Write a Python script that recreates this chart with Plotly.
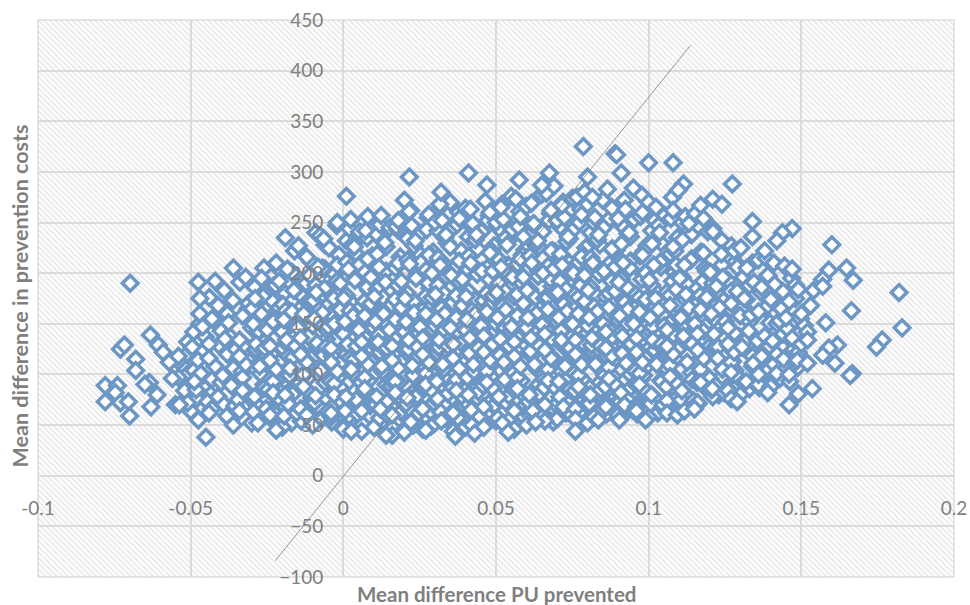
import plotly.graph_objects as go

# outliers
x_edge_left = [-0.0698,-0.078,-0.078,-0.074,-0.0747,-0.073,-0.0717,-0.073,-0.0704,-0.070,-0.068,-0.068,-0.0632,-0.0606,-0.059,-0.0635,-0.065,-0.063,-0.061,-0.055,-0.0537,-0.0475,-0.047,-0.045,-0.0475,-0.057,-0.056,-0.054]
y_edge_left = [190,89,73,89,82,125,129,72,73,59,115,104,139,129,122,92,90,68,80,70,70,191,175,38,55,112,96,118]
x_edge_right = [0.182,0.183,0.1765,0.1746,0.1664,0.167,0.1648,0.160,0.159,0.157,0.154,0.1667,0.166,0.1618,0.159,0.161,0.157,0.1536,0.149,0.146,0.1487,0.152,0.158,0.152,0.147,0.1438,0.142,0.149,0.153,0.157]
y_edge_right = [181,146,134,127,163,193,205,228,203,194,183,101,99,129,126,111,119,86,81,70,114,111,151,134,244,240,232,184,168,187]
x_edge_top = [0.0786,0.089,0.0895,0.1,0.108,0.1274,0.1114,0.1097,0.091,0.080,0.0675,0.065,0.0576,0.047,0.041,0.0216,0.001,0.032,-0.019,0.117,0.121,0.124,0.134]
y_edge_top = [325,318,317,309,309,288,288,282,299,295,299,287,292,287,299,295,276,280,235,267,273,268,251]
x_edge_low = [0.076,0.054,0.043,0.0367,0.02,0.014,0.0026,-0.022,0.1094,0.1117,0.115,0.099,0.0904,0.0835,-0.036,-0.028,0.027,0.063,0.127,0.129,0.139]
y_edge_low = [44,43,42,39,43,40,44,45,60,64,66,55,55,55,50,52,45,53,76,73,82]

# interior of the cloud, band by band
x_a = [-0.052,-0.049,-0.054,-0.047,-0.051,-0.046,-0.053,-0.048,-0.050,-0.046,-0.052,-0.047,-0.049,-0.054,-0.046,-0.051]
y_a = [118,104,97,150,132,88,110,76,64,123,84,160,142,113,99,72]
x_b = [-0.044,-0.041,-0.037,-0.043,-0.039,-0.036,-0.042,-0.038,-0.044,-0.04,-0.036,-0.043,-0.037,-0.041,-0.039,-0.044,-0.036,-0.042,-0.038,-0.04]
y_b = [62,78,55,95,70,88,108,120,130,143,106,155,137,168,183,116,205,192,160,92]
x_c = [-0.034,-0.031,-0.027,-0.033,-0.029,-0.026,-0.032,-0.028,-0.034,-0.03,-0.026,-0.033,-0.027,-0.031,-0.029,-0.034,-0.026,-0.032,-0.028,-0.03,-0.033,-0.027]
y_c = [64,80,58,97,72,90,110,122,134,146,104,158,139,170,186,118,205,196,162,52,84,178]
x_d = [-0.024,-0.021,-0.017,-0.023,-0.019,-0.016,-0.022,-0.018,-0.024,-0.02,-0.016,-0.023,-0.017,-0.021,-0.019,-0.024,-0.016,-0.022,-0.018,-0.02,-0.023,-0.017,-0.021,-0.016]
y_d = [60,76,52,93,68,86,105,118,128,142,100,152,136,166,180,114,198,210,158,48,82,172,192,222]
x_e = [-0.014,-0.011,-0.007,-0.013,-0.009,-0.006,-0.012,-0.008,-0.014,-0.01,-0.006,-0.013,-0.007,-0.011,-0.009,-0.014,-0.006,-0.012,-0.008,-0.01,-0.013,-0.007,-0.011,-0.006,-0.009,-0.012]
y_e = [66,82,56,100,74,92,112,124,136,148,108,160,142,174,188,120,204,216,164,50,88,178,198,228,240,60]
x_f = [-0.004,-0.001,0.003,-0.003,0.001,0.004,-0.002,0.002,-0.004,0,0.004,-0.003,0.003,-0.001,0.001,-0.004,0.004,-0.002,0.002,0,-0.003,0.003,-0.001,0.004,0.001,-0.002,0.002,-0.004]
y_f = [58,74,50,91,66,84,103,116,126,140,98,150,134,164,178,112,196,208,156,46,80,170,190,220,232,250,244,62]
x_g = [0.006,0.009,0.013,0.007,0.011,0.014,0.008,0.012,0.006,0.01,0.014,0.007,0.013,0.009,0.011,0.006,0.014,0.008,0.012,0.01,0.007,0.013,0.009,0.014,0.011,0.008,0.012,0.006]
y_g = [64,80,54,97,72,90,110,122,132,146,104,158,140,170,184,118,202,214,162,48,86,176,196,226,238,256,248,44]
x_h = [0.016,0.019,0.023,0.017,0.021,0.024,0.018,0.022,0.016,0.02,0.024,0.017,0.023,0.019,0.021,0.016,0.024,0.018,0.022,0.02,0.017,0.023,0.019,0.024,0.021,0.018,0.022,0.016,0.02,0.023]
y_h = [60,76,50,93,68,86,106,118,128,142,100,154,136,166,180,114,198,210,158,46,82,172,192,222,234,252,262,40,272,56]
x_i = [0.026,0.029,0.033,0.027,0.031,0.034,0.028,0.032,0.026,0.03,0.034,0.027,0.033,0.029,0.031,0.026,0.034,0.028,0.032,0.03,0.027,0.033,0.029,0.034,0.031,0.028,0.032,0.026,0.03,0.033,0.035]
y_i = [66,84,58,101,74,94,112,124,136,148,108,160,144,176,188,120,206,218,166,52,90,180,200,230,242,258,266,46,250,70,270]
x_j = [0.036,0.039,0.043,0.037,0.041,0.044,0.038,0.042,0.036,0.04,0.044,0.037,0.043,0.039,0.041,0.036,0.044,0.038,0.042,0.04,0.037,0.043,0.039,0.044,0.041,0.038,0.042,0.036,0.04,0.043,0.035]
y_j = [62,78,52,95,70,88,106,118,130,144,102,156,138,168,182,116,200,212,160,48,84,174,194,224,236,254,246,44,264,60,226]
x_k = [0.046,0.049,0.053,0.047,0.051,0.054,0.048,0.052,0.046,0.05,0.054,0.047,0.053,0.049,0.051,0.046,0.054,0.048,0.052,0.05,0.047,0.053,0.049,0.054,0.051,0.048,0.052,0.046,0.05,0.053,0.055,0.049]
y_k = [68,86,60,103,76,96,114,126,138,150,110,162,146,178,190,122,208,220,168,54,92,182,202,232,244,260,268,48,250,72,276,130]
x_l = [0.056,0.059,0.063,0.057,0.061,0.064,0.058,0.062,0.056,0.06,0.064,0.057,0.063,0.059,0.061,0.056,0.064,0.058,0.062,0.06,0.057,0.063,0.059,0.064,0.061,0.058,0.062,0.056,0.06,0.063,0.065,0.059]
y_l = [64,80,54,97,72,90,108,120,132,146,104,158,140,170,184,118,202,214,162,50,86,176,196,226,238,256,248,46,266,62,278,236]
x_m = [0.066,0.069,0.073,0.067,0.071,0.074,0.068,0.072,0.066,0.07,0.074,0.067,0.073,0.069,0.071,0.066,0.074,0.068,0.072,0.07,0.067,0.073,0.069,0.074,0.071,0.068,0.072,0.066,0.07,0.073,0.075,0.069]
y_m = [70,88,62,105,78,98,116,128,140,152,112,164,148,180,192,124,210,222,170,56,94,184,204,234,246,262,270,54,252,74,274,286]
x_n = [0.076,0.079,0.083,0.077,0.081,0.084,0.078,0.082,0.076,0.08,0.084,0.077,0.083,0.079,0.081,0.076,0.084,0.078,0.082,0.08,0.077,0.083,0.079,0.084,0.081,0.078,0.082,0.076,0.08,0.083,0.085,0.079]
y_n = [66,82,60,99,74,92,110,122,134,148,106,160,142,172,186,120,204,216,164,52,88,178,198,228,240,258,250,56,268,64,272,280]
x_o = [0.086,0.089,0.093,0.087,0.091,0.094,0.088,0.092,0.086,0.09,0.094,0.087,0.093,0.089,0.091,0.086,0.094,0.088,0.092,0.09,0.087,0.093,0.089,0.094,0.091,0.088,0.092,0.086,0.09,0.093,0.095]
y_o = [72,90,64,107,80,100,118,130,142,154,114,166,150,182,194,126,212,224,172,60,96,186,206,236,248,264,272,68,254,76,284]
x_p = [0.096,0.099,0.103,0.097,0.101,0.104,0.098,0.102,0.096,0.1,0.104,0.097,0.103,0.099,0.101,0.096,0.104,0.098,0.102,0.1,0.097,0.103,0.099,0.104,0.101,0.098,0.102,0.096,0.1,0.103]
y_p = [68,84,62,101,76,94,112,124,136,150,108,162,144,174,188,122,206,218,166,58,90,180,200,230,242,260,252,64,270,72]
x_q = [0.106,0.109,0.113,0.107,0.111,0.114,0.108,0.112,0.106,0.11,0.114,0.107,0.113,0.109,0.111,0.106,0.114,0.108,0.112,0.11,0.107,0.113,0.109,0.114,0.111,0.108,0.112,0.106]
y_q = [74,92,68,109,82,102,120,132,144,156,116,168,152,184,196,128,214,226,174,66,98,188,208,238,250,262,256,62]
x_r = [0.116,0.119,0.123,0.117,0.121,0.124,0.118,0.122,0.116,0.12,0.124,0.117,0.123,0.119,0.121,0.116,0.124,0.118,0.122,0.12,0.117,0.123,0.119,0.124,0.121,0.118]
y_r = [72,88,80,105,78,98,116,128,140,152,112,164,146,176,190,124,208,220,168,96,92,182,202,232,244,254]
x_s = [0.126,0.129,0.133,0.127,0.131,0.134,0.128,0.132,0.126,0.13,0.134,0.127,0.133,0.129,0.131,0.126,0.134,0.128,0.132,0.13,0.127,0.133,0.129,0.134]
y_s = [84,98,86,112,92,108,122,134,146,158,118,170,152,182,196,130,210,222,174,80,102,188,206,236]
x_t = [0.136,0.139,0.143,0.137,0.141,0.144,0.138,0.142,0.136,0.14,0.144,0.137,0.143,0.139,0.141,0.136,0.144,0.138,0.142,0.14]
y_t = [90,104,96,118,110,126,138,150,162,174,140,186,166,198,210,100,182,222,120,88]
x_u = [0.146,0.149,0.151,0.147,0.15,0.146,0.148,0.152,0.147,0.145,0.15,0.148]
y_u = [100,122,148,136,160,172,188,142,204,156,130,112]

# second pass over the cloud, filling the gaps
x_a2 = [-0.0445,-0.0482,-0.0418,-0.0467,-0.0431,-0.0495,-0.0452,-0.0408,-0.0476,-0.0423,-0.0461,-0.0439,-0.0488]
y_a2 = [73,85,91,101,66,127,137,129,114,153,147,176,93]
x_b2 = [-0.0355,-0.0382,-0.0318,-0.0367,-0.0331,-0.0395,-0.0352,-0.0308,-0.0376,-0.0323,-0.0361,-0.0339,-0.0388,-0.0345,-0.0312]
y_b2 = [69,59,83,89,103,99,125,113,151,129,173,191,135,75,165]
x_c2 = [-0.0238,-0.0281,-0.0212,-0.0258,-0.0225,-0.0294,-0.0244,-0.0272,-0.0203,-0.0265,-0.0219,-0.0287,-0.0232,-0.0255,-0.0208,-0.0278,-0.0241,-0.0298,-0.0216,-0.0262,-0.0229,-0.0289,-0.0206,-0.0268,-0.0247,-0.0276]
y_c2 = [57,69,73,87,79,63,97,101,91,115,107,125,121,133,147,143,155,165,163,177,187,175,203,195,85,111]
x_d2 = [-0.0138,-0.0181,-0.0112,-0.0158,-0.0125,-0.0194,-0.0144,-0.0172,-0.0103,-0.0165,-0.0119,-0.0187,-0.0132,-0.0155,-0.0108,-0.0178,-0.0141,-0.0198,-0.0116,-0.0162,-0.0129,-0.0189,-0.0106,-0.0168,-0.0147,-0.0176]
y_d2 = [54,71,67,83,95,59,89,105,77,117,113,131,127,139,151,157,145,169,171,183,193,163,211,201,227,99]
x_e2 = [-0.0038,-0.0081,-0.0012,-0.0058,-0.0025,-0.0094,-0.0044,-0.0072,-0.0003,-0.0065,-0.0019,-0.0087,-0.0032,-0.0055,-0.0008,-0.0078,-0.0041,-0.0098,-0.0016,-0.0062,-0.0029,-0.0089,-0.0006,-0.0068,-0.0047,-0.0076,-0.0022,-0.0052]
y_e2 = [53,68,61,77,87,72,95,109,85,119,101,129,123,135,149,153,159,173,167,185,199,181,215,205,225,237,247,143]
x_f2 = [0.0062,0.0019,0.0088,0.0042,0.0075,0.0006,0.0056,0.0028,0.0097,0.0035,0.0081,0.0013,0.0068,0.0045,0.0092,0.0022,0.0059,0.0002,0.0084,0.0038,0.0071,0.0011,0.0094,0.0032,0.0053,0.0024,0.0078,0.0048]
y_f2 = [51,59,69,75,85,64,93,107,99,115,121,129,137,145,151,163,167,175,183,193,201,211,217,229,241,253,235,125]
x_g2 = [0.0162,0.0119,0.0188,0.0142,0.0175,0.0106,0.0156,0.0128,0.0197,0.0135,0.0181,0.0113,0.0168,0.0145,0.0192,0.0122,0.0159,0.0102,0.0184,0.0138,0.0171,0.0111,0.0194,0.0132,0.0153,0.0124,0.0178,0.0148,0.0186,0.0116]
y_g2 = [47,57,63,73,83,70,89,103,97,111,125,131,135,149,147,161,169,177,187,191,205,219,213,231,245,257,243,121,155,139]
x_h2 = [0.0262,0.0219,0.0288,0.0242,0.0275,0.0206,0.0256,0.0228,0.0297,0.0235,0.0281,0.0213,0.0268,0.0245,0.0292,0.0222,0.0259,0.0202,0.0284,0.0238,0.0271,0.0211,0.0294,0.0232,0.0253,0.0224,0.0278,0.0248,0.0286,0.0216]
y_h2 = [55,65,49,79,91,71,87,99,105,115,129,125,133,151,145,159,163,175,185,195,203,213,221,227,239,247,255,141,171,261]
x_i2 = [0.0362,0.0319,0.0388,0.0342,0.0375,0.0306,0.0356,0.0328,0.0397,0.0335,0.0381,0.0313,0.0368,0.0345,0.0392,0.0322,0.0359,0.0302,0.0384,0.0338,0.0371,0.0311,0.0394,0.0332,0.0353,0.0324,0.0378,0.0348,0.0386,0.0316]
y_i2 = [49,63,71,81,57,93,89,105,117,125,131,127,141,153,157,165,171,179,189,197,207,215,219,235,243,252,260,135,175,268]
x_j2 = [0.0462,0.0419,0.0488,0.0442,0.0475,0.0406,0.0456,0.0428,0.0497,0.0435,0.0481,0.0413,0.0468,0.0445,0.0492,0.0422,0.0459,0.0402,0.0484,0.0438,0.0471,0.0411,0.0494,0.0432,0.0453,0.0424,0.0478,0.0448,0.0486,0.0416,0.0465]
y_j2 = [53,65,75,83,59,97,91,103,113,127,133,121,149,151,155,163,173,177,185,199,205,217,227,233,241,249,257,139,169,263,271]
x_k2 = [0.0562,0.0519,0.0588,0.0542,0.0575,0.0506,0.0556,0.0528,0.0597,0.0535,0.0581,0.0513,0.0568,0.0545,0.0592,0.0522,0.0559,0.0502,0.0584,0.0538,0.0571,0.0511,0.0594,0.0532,0.0553,0.0524,0.0578,0.0548,0.0586,0.0516,0.0565]
y_k2 = [51,61,67,79,87,57,101,95,117,125,129,119,137,153,159,167,177,181,191,199,209,213,223,235,243,253,261,143,175,265,273]
x_l2 = [0.0662,0.0619,0.0688,0.0642,0.0675,0.0606,0.0656,0.0628,0.0697,0.0635,0.0681,0.0613,0.0668,0.0645,0.0692,0.0622,0.0659,0.0602,0.0684,0.0638,0.0671,0.0611,0.0694,0.0632,0.0653,0.0624,0.0678,0.0648,0.0686,0.0616,0.0665]
y_l2 = [59,67,53,81,91,73,95,107,113,129,135,123,143,151,157,163,175,183,187,197,207,217,221,229,241,249,259,137,167,269,279]
x_m2 = [0.0762,0.0719,0.0788,0.0742,0.0775,0.0706,0.0756,0.0728,0.0797,0.0735,0.0781,0.0713,0.0768,0.0745,0.0792,0.0722,0.0759,0.0702,0.0784,0.0738,0.0771,0.0711,0.0794,0.0732,0.0753,0.0724,0.0778,0.0748,0.0786,0.0716,0.0765]
y_m2 = [57,65,75,85,63,93,101,111,119,127,131,143,147,155,161,169,179,181,193,201,211,219,225,231,243,255,263,137,171,267,275]
x_n2 = [0.0862,0.0819,0.0888,0.0842,0.0875,0.0806,0.0856,0.0828,0.0897,0.0835,0.0881,0.0813,0.0868,0.0845,0.0892,0.0822,0.0859,0.0802,0.0884,0.0838,0.0871,0.0811,0.0894,0.0832,0.0853,0.0824,0.0878,0.0848,0.0886,0.0816,0.0865]
y_n2 = [61,69,77,85,93,71,99,113,119,125,137,129,145,151,159,167,177,183,191,199,209,215,223,233,245,255,265,139,173,275,283]
x_o2 = [0.0962,0.0919,0.0988,0.0942,0.0975,0.0906,0.0956,0.0928,0.0997,0.0935,0.0981,0.0913,0.0968,0.0945,0.0992,0.0922,0.0959,0.0902,0.0984,0.0938,0.0971,0.0911,0.0994,0.0932,0.0953,0.0924,0.0978]
y_o2 = [61,69,79,87,95,73,103,115,109,127,135,121,147,155,161,171,179,191,199,205,217,229,227,239,253,263,277]
x_p2 = [0.1062,0.1019,0.1088,0.1042,0.1075,0.1006,0.1056,0.1028,0.1097,0.1035,0.1081,0.1013,0.1068,0.1045,0.1092,0.1022,0.1059,0.1002,0.1084,0.1038,0.1071,0.1011,0.1094,0.1032,0.1053,0.1024,0.1078]
y_p2 = [67,77,85,93,99,71,107,113,125,129,139,147,153,159,169,175,181,193,201,211,219,229,235,247,257,265,275]
x_q2 = [0.1162,0.1119,0.1188,0.1142,0.1175,0.1106,0.1156,0.1128,0.1197,0.1135,0.1181,0.1113,0.1168,0.1145,0.1192,0.1122,0.1159,0.1102,0.1184,0.1138,0.1171,0.1111,0.1194,0.1132,0.1153]
y_q2 = [71,81,87,95,101,75,111,119,127,137,143,149,157,161,171,179,185,195,205,213,221,233,241,249,259]
x_r2 = [0.1262,0.1219,0.1288,0.1242,0.1275,0.1206,0.1256,0.1228,0.1297,0.1235,0.1281,0.1213,0.1268,0.1245,0.1292,0.1222,0.1259,0.1202,0.1284,0.1238,0.1271,0.1211]
y_r2 = [79,89,95,105,113,85,121,127,137,147,141,155,165,173,179,187,193,201,211,219,227,241]
x_s2 = [0.1362,0.1319,0.1388,0.1342,0.1375,0.1306,0.1356,0.1328,0.1397,0.1335,0.1381,0.1313,0.1368,0.1345,0.1392,0.1322,0.1359,0.1302,0.1384]
y_s2 = [87,93,101,111,119,127,133,143,151,159,165,175,181,191,197,205,213,225,215]
x_t2 = [0.1462,0.1419,0.1488,0.1442,0.1475,0.1406,0.1456,0.1428,0.1497,0.1435,0.1481,0.1413,0.1468,0.1445]
y_t2 = [93,101,107,115,125,133,145,153,155,165,175,189,195,207]

# third pass over the densest part
x_c3 = [-0.0291,-0.0253,-0.0217,-0.0274,-0.0236,-0.0204,-0.0286,-0.0249,-0.0211,-0.0268,-0.0231,-0.0295,-0.0257,-0.0222]
y_c3 = [78,66,94,108,120,82,130,144,112,160,172,150,126,188]
x_d3 = [-0.0191,-0.0153,-0.0117,-0.0174,-0.0136,-0.0104,-0.0186,-0.0149,-0.0111,-0.0168,-0.0131,-0.0195,-0.0157,-0.0122,-0.0183,-0.0142]
y_d3 = [80,62,96,106,122,74,134,146,110,162,176,154,128,190,204,92]
x_e3 = [-0.0091,-0.0053,-0.0017,-0.0074,-0.0036,-0.0004,-0.0086,-0.0049,-0.0011,-0.0068,-0.0031,-0.0095,-0.0057,-0.0022,-0.0083,-0.0042,-0.0014,-0.0064]
y_e3 = [79,63,97,104,118,76,131,147,111,161,175,155,127,192,206,93,218,234]
x_f3 = [0.0009,0.0047,0.0083,0.0026,0.0064,0.0096,0.0014,0.0051,0.0089,0.0032,0.0069,0.0005,0.0043,0.0078,0.0017,0.0058,0.0086,0.0036,0.0073]
y_f3 = [78,61,94,105,119,73,130,144,113,158,172,152,128,186,204,92,212,226,242]
x_g3 = [0.0109,0.0147,0.0183,0.0126,0.0164,0.0196,0.0114,0.0151,0.0189,0.0132,0.0169,0.0105,0.0143,0.0178,0.0117,0.0158,0.0186,0.0136,0.0173,0.0121]
y_g3 = [78,59,92,108,120,72,132,144,112,160,174,152,126,188,206,94,216,230,246,66]
x_h3 = [0.0209,0.0247,0.0283,0.0226,0.0264,0.0296,0.0214,0.0251,0.0289,0.0232,0.0269,0.0205,0.0243,0.0278,0.0217,0.0258,0.0286,0.0236,0.0273,0.0221]
y_h3 = [77,62,96,109,123,72,134,147,112,161,177,152,127,190,209,90,218,232,243,53]
x_i3 = [0.0309,0.0347,0.0383,0.0326,0.0364,0.0396,0.0314,0.0351,0.0389,0.0332,0.0369,0.0305,0.0343,0.0378,0.0317,0.0358,0.0386,0.0336,0.0373,0.0321,0.0354]
y_i3 = [76,60,95,110,122,69,134,146,114,160,178,154,128,192,208,87,222,238,248,54,198]
x_j3 = [0.0409,0.0447,0.0483,0.0426,0.0464,0.0496,0.0414,0.0451,0.0489,0.0432,0.0469,0.0405,0.0443,0.0478,0.0417,0.0458,0.0486,0.0436,0.0473,0.0421,0.0454]
y_j3 = [80,58,98,110,120,70,136,148,112,160,180,154,126,194,210,89,222,238,252,50,202]
x_k3 = [0.0509,0.0547,0.0583,0.0526,0.0564,0.0596,0.0514,0.0551,0.0589,0.0532,0.0569,0.0505,0.0543,0.0578,0.0517,0.0558,0.0586,0.0536,0.0573,0.0521,0.0554]
y_k3 = [78,56,94,112,124,70,135,147,111,164,179,156,128,192,206,85,218,228,246,52,196]
x_l3 = [0.0609,0.0647,0.0683,0.0626,0.0664,0.0696,0.0614,0.0651,0.0689,0.0632,0.0669,0.0605,0.0643,0.0678,0.0617,0.0658,0.0686,0.0636,0.0673,0.0621,0.0654]
y_l3 = [80,60,97,110,124,70,136,149,114,160,176,156,128,194,210,87,222,232,252,64,200]
x_m3 = [0.0709,0.0747,0.0783,0.0726,0.0764,0.0796,0.0714,0.0751,0.0789,0.0732,0.0769,0.0705,0.0743,0.0778,0.0717,0.0758,0.0786,0.0736,0.0773,0.0721,0.0754]
y_m3 = [78,60,95,108,122,70,134,150,112,162,176,156,126,188,208,84,218,236,250,68,200]
x_n3 = [0.0809,0.0847,0.0883,0.0826,0.0864,0.0896,0.0814,0.0851,0.0889,0.0832,0.0869,0.0805,0.0843,0.0878,0.0817,0.0858,0.0886,0.0836,0.0873,0.0821,0.0854]
y_n3 = [80,64,98,110,124,72,136,150,114,162,180,156,128,192,210,88,222,238,254,58,202]
x_o3 = [0.0909,0.0947,0.0983,0.0926,0.0964,0.0996,0.0914,0.0951,0.0989,0.0932,0.0969,0.0905,0.0943,0.0978,0.0917,0.0958,0.0986,0.0936,0.0973,0.0921]
y_o3 = [82,65,99,111,124,76,138,150,116,164,176,158,130,194,210,90,222,240,256,70]
x_p3 = [0.1009,0.1047,0.1083,0.1026,0.1064,0.1096,0.1014,0.1051,0.1089,0.1032,0.1069,0.1005,0.1043,0.1078,0.1017,0.1058,0.1086,0.1036,0.1073]
y_p3 = [80,70,98,110,122,78,134,148,116,164,178,156,130,192,208,88,222,240,254]
x_q3 = [0.1109,0.1147,0.1183,0.1126,0.1164,0.1196,0.1114,0.1151,0.1189,0.1132,0.1169,0.1105,0.1143,0.1178,0.1117,0.1158]
y_q3 = [84,74,100,112,124,84,138,150,118,166,178,156,130,192,208,92]
x_r3 = [0.1209,0.1247,0.1283,0.1226,0.1264,0.1296,0.1214,0.1251,0.1289,0.1232,0.1269,0.1205,0.1243]
y_r3 = [86,82,104,116,128,90,140,152,124,166,182,160,196]

# the reference line
x_line = [-0.0223, 0.1137]
y_line = [-84, 425]

# axis ticks
x_ticks = [-0.1,-0.05,0,0.05,0.1,0.15,0.2]
x_tick_text = ["-0.1","-0.05","0","0.05","0.1","0.15","0.2"]
y_ticks = [-100,-50,0,50,100,150,200,250,300,350,400,450]

x_all = (x_a+x_a2+x_b+x_b2+x_c+x_c2+x_c3+x_d+x_d2+x_d3+x_e+x_e2+x_e3+x_f+x_f2+x_f3+x_g+x_g2+x_g3+x_h+x_h2+x_h3+x_i+x_i2+x_i3+x_j+x_j2+x_j3+x_k+x_k2+x_k3+x_l+x_l2+x_l3
         +x_m+x_m2+x_m3+x_n+x_n2+x_n3+x_o+x_o2+x_o3+x_p+x_p2+x_p3+x_q+x_q2+x_q3+x_r+x_r2+x_r3+x_s+x_s2+x_t+x_t2+x_u
         +x_edge_left+x_edge_right+x_edge_top+x_edge_low)
y_all = (y_a+y_a2+y_b+y_b2+y_c+y_c2+y_c3+y_d+y_d2+y_d3+y_e+y_e2+y_e3+y_f+y_f2+y_f3+y_g+y_g2+y_g3+y_h+y_h2+y_h3+y_i+y_i2+y_i3+y_j+y_j2+y_j3+y_k+y_k2+y_k3+y_l+y_l2+y_l3
         +y_m+y_m2+y_m3+y_n+y_n2+y_n3+y_o+y_o2+y_o3+y_p+y_p2+y_p3+y_q+y_q2+y_q3+y_r+y_r2+y_r3+y_s+y_s2+y_t+y_t2+y_u
         +y_edge_left+y_edge_right+y_edge_top+y_edge_low)

GREY = "#7f7f7f"
GRID = "#dedede"
FONT = "Lato"

fig = go.Figure()
# hatched plot background
fig.add_trace(go.Bar(x=[0.05], y=[550], base=[-100], width=[0.3], hoverinfo="skip", showlegend=False,
                     marker=dict(color="rgba(0,0,0,0)", line=dict(width=0),
                                 pattern=dict(shape="\\", size=4, solidity=0.4, fgcolor="#d0d0d0", bgcolor="rgba(255,255,255,0)"))))
fig.add_trace(go.Scatter(x=x_all, y=y_all, mode="markers", showlegend=False,
                         marker=dict(symbol="diamond", size=12, color="white",
                                     line=dict(color="#6c96c4", width=3.5))))
fig.add_trace(go.Scatter(x=x_line, y=y_line, mode="lines", showlegend=False,
                         line=dict(color="#7f7f7f", width=0.8)))

fig.update_layout(
    width=970, height=605,
    margin=dict(l=38, r=16, t=20, b=28),
    paper_bgcolor="white", plot_bgcolor="white",
    font=dict(family=FONT, color=GREY, size=19),
    showlegend=False,
    xaxis=dict(range=[-0.1, 0.2], tickvals=x_ticks, ticktext=x_tick_text, automargin=False,
               anchor="free", position=100/550, showgrid=True, gridcolor=GRID, gridwidth=1.5,
               zeroline=False, showline=False, ticks="", ticklabelstandoff=19,
               tickfont=dict(family=FONT, size=19, color=GREY)),
    yaxis=dict(range=[-100, 450], tickvals=y_ticks, automargin=False,
               anchor="free", position=1/3, showgrid=True, gridcolor=GRID, gridwidth=1.5,
               zeroline=False, showline=False, ticks="", ticklabelstandoff=20,
               tickfont=dict(family=FONT, size=19, color=GREY)),
    shapes=[dict(type="rect", xref="paper", yref="paper", x0=0, x1=1, y0=0, y1=1,
                 line=dict(color=GRID, width=1.5), fillcolor="rgba(0,0,0,0)", layer="below")],
    annotations=[
        dict(text="<b>Mean difference PU prevented</b>", xref="paper", yref="paper", x=0.501, y=-0.005,
             xanchor="center", yanchor="top", showarrow=False, font=dict(family=FONT, size=20.5, color=GREY)),
        dict(text="<b>Mean difference in prevention costs</b>", xref="paper", yref="paper", x=-0.02, y=0.505,
             xanchor="center", yanchor="middle", textangle=-90, showarrow=False, font=dict(family=FONT, size=21.5, color=GREY)),
    ],
)
fig.write_html("out.html", config={"displayModeBar": False}, post_script="document.body.style.margin='0';")
